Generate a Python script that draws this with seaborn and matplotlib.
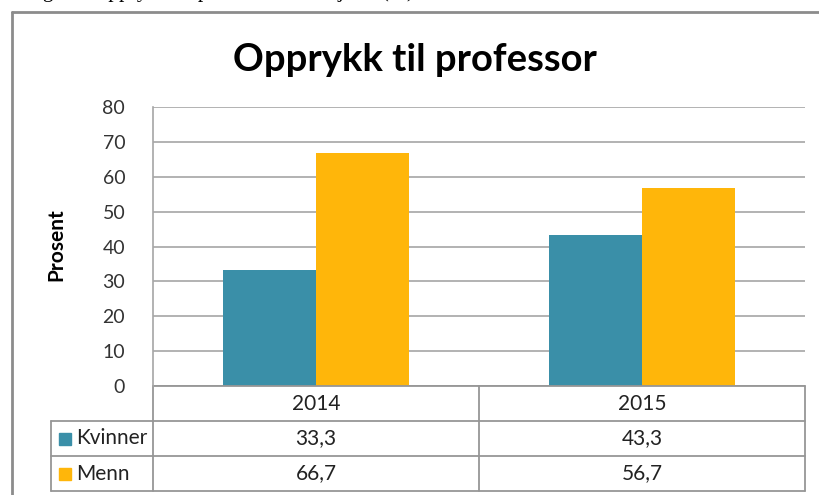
import matplotlib
matplotlib.use("Agg")
import matplotlib.pyplot as plt
import seaborn as sns
import pandas as pd
from matplotlib.transforms import blended_transform_factory
from matplotlib.patches import Rectangle

years = ["2014", "2015"]
series = ["Kvinner", "Menn"]
kvinner = [33.3, 43.3]
menn = [66.7, 56.7]
colors = ["#3A8FA8", "#FFB60A"]
title = "Opprykk til professor"
ylabel = "Prosent"
caption = "Figur 6 Opprykk til professor etter kjønn (%)"

df = pd.DataFrame({
    "year": years * 2,
    "series": [series[0]] * 2 + [series[1]] * 2,
    "value": kvinner + menn,
})

sns.set_theme(style="white")
plt.rcParams["font.family"] = ["Lato", "DejaVu Sans"]

W, H = 820, 495
fig = plt.figure(figsize=(W / 100, H / 100), dpi=100)

def fx(px):
    return px / W

def fy(py):
    return 1 - py / H

left, right, top, bottom = 153, 805, 107, 386
ax = fig.add_axes([fx(left), fy(bottom), fx(right - left), (bottom - top) / H])

sns.barplot(data=df, x="year", y="value", hue="series", palette=colors,
            width=0.57, ax=ax, saturation=1, legend=False, linewidth=0)

ax.set_xlim(-0.5, 1.5)
ax.set_ylim(0, 80)
ax.set_yticks(range(0, 81, 10))
ax.set_yticklabels([str(v) for v in range(0, 81, 10)], fontsize=14, color="#333333")
ax.yaxis.grid(True, color="#A6A6A6", linewidth=1.2)
ax.set_axisbelow(True)
ax.tick_params(axis="y", length=0, pad=20)
ax.set_xticks([])
ax.set_xlabel("")
ax.set_ylabel("")
for s in ["top", "right", "bottom"]:
    ax.spines[s].set_visible(False)
ax.spines["left"].set_color("#A6A6A6")
ax.spines["left"].set_linewidth(1.2)

# Data table below axis
tr = blended_transform_factory(ax.transData, fig.transFigure)
row_lines = [386, 421, 456, 491]
lc = "#969696"
lw = 1.3
ax.plot([-0.5, 1.5], [fy(row_lines[0])] * 2, transform=tr, color=lc, lw=lw, clip_on=False)
for r in row_lines[1:]:
    fig.add_artist(plt.Line2D([fx(51), fx(right)], [fy(r)] * 2, color=lc, lw=lw))
for xv in [-0.5, 0.5, 1.5]:
    ax.plot([xv, xv], [fy(row_lines[0]), fy(row_lines[-1])], transform=tr,
            color=lc, lw=lw, clip_on=False)
fig.add_artist(plt.Line2D([fx(51)] * 2, [fy(row_lines[1]), fy(row_lines[-1])], color=lc, lw=lw))

tfs = 15
for i, yv in enumerate(years):
    ax.text(i, fy((row_lines[0] + row_lines[1]) / 2), yv, transform=tr,
            ha="center", va="center", fontsize=tfs, color="#222222")
rows = [kvinner, menn]
for ri, (name, vals, c) in enumerate(zip(series, rows, colors)):
    yc = fy((row_lines[ri + 1] + row_lines[ri + 2]) / 2)
    fig.add_artist(Rectangle((fx(59), yc - 6 / H), 12 / W, 12 / H,
                             transform=fig.transFigure, color=c))
    fig.text(fx(76), yc, name, ha="left", va="center", fontsize=tfs, color="#222222")
    for i, v in enumerate(vals):
        ax.text(i, yc, f"{v:.1f}".replace(".", ","), transform=tr,
                ha="center", va="center", fontsize=tfs, color="#222222")

# Title and y label
fig.text(fx(415), fy(60), title, ha="center", va="center", fontsize=27.5,
         fontweight="bold", color="black")
fig.text(fx(56), fy(245), ylabel, ha="center", va="center", rotation=90,
         fontsize=15, fontweight="bold", color="black")

# Outer frame
fig.add_artist(plt.Line2D([fx(12), fx(12)], [fy(12), 0], color="#8C8C8C", lw=2))
fig.add_artist(plt.Line2D([fx(12), 1], [fy(12), fy(12)], color="#8C8C8C", lw=2))

# Caption above the chart, cropped by the top edge as in the reference
fig.text(fx(25), fy(-3), caption, ha="left", va="baseline", fontsize=15.5,
         family="Liberation Serif", color="black")

fig.savefig("out.png", dpi=100)
